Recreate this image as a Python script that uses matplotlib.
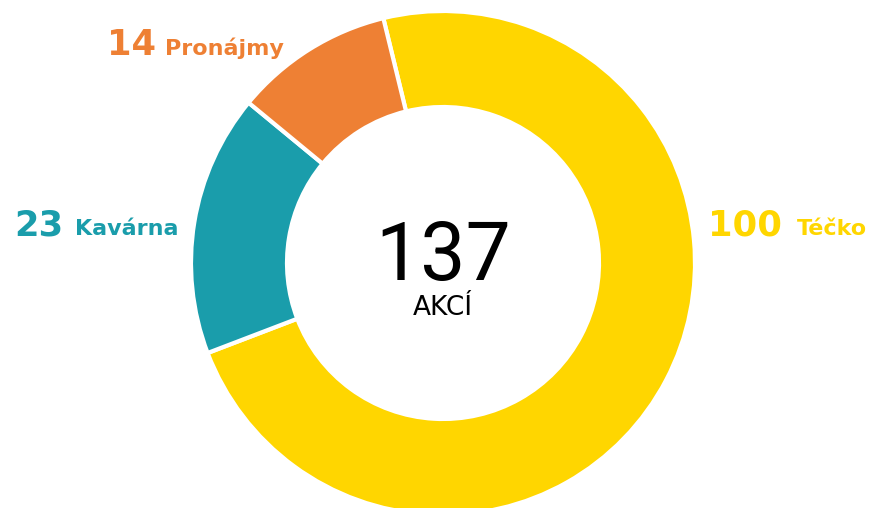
import matplotlib.pyplot as plt

# data
kategorie = ['Téčko', 'Kavárna', 'Pronájmy']
pocty = [100, 23, 14]
barvy = ['#FFD600', '#1A9DAB', '#EE8034']
celkem = sum(pocty)

# label anchor positions in pixels (left of number, left of name, baseline)
popisky = {
    'Téčko': (708, 797, 235),
    'Kavárna': (14, 75, 235),
    'Pronájmy': (107, 165, 55),
}

W, H = 878, 508
fig = plt.figure(figsize=(W / 100, H / 100), dpi=100)
ax = fig.add_axes([0, 0, 1, 1])

cx, cy = 443, H - 263
R = 252
ax.pie(pocty, colors=barvy, startangle=103.7, counterclock=False,
       center=(cx, cy), radius=R, frame=True,
       wedgeprops=dict(width=R - 156, edgecolor='white', linewidth=3))
ax.set_xlim(0, W)
ax.set_ylim(0, H)
ax.set_aspect('equal')
ax.axis('off')

for kat, n, c in zip(kategorie, pocty, barvy):
    xn, xt, yb = popisky[kat]
    ax.text(xn, H - yb, str(n), color=c, fontsize=25.5, fontweight='bold',
            family=['DejaVu Sans'], va='baseline', ha='left')
    ax.text(xt, H - yb, kat, color=c, fontsize=16, fontweight='bold',
            family=['DejaVu Sans'], va='baseline', ha='left')

ax.text(cx, H - 280, str(celkem), fontsize=58, fontweight='normal',
        family=['Roboto', 'DejaVu Sans'], ha='center', va='baseline',
        color='black')
ax.text(cx, H - 315, 'AKCÍ', fontsize=19, family=['DejaVu Sans'],
        ha='center', va='baseline', color='black')

fig.savefig('out.png', dpi=100)
